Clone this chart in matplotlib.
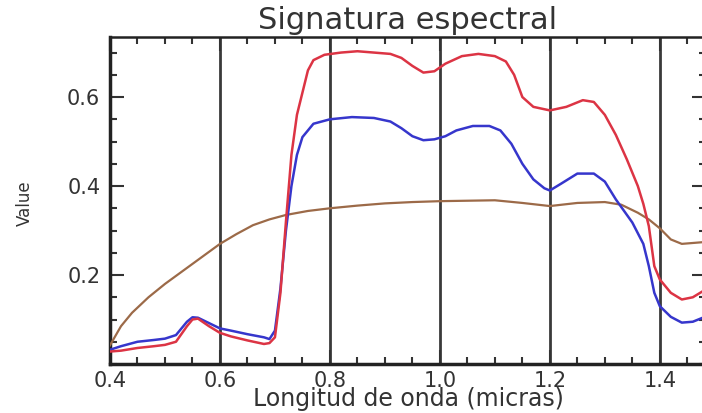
import numpy as np
from matplotlib import pyplot as plt
from matplotlib.ticker import MultipleLocator

plt.rcParams.update({'font.family': 'DejaVu Sans',
                     'text.color': "#333333",
                     'xtick.color': "#333333",
                     'ytick.color': "#333333"})

# espectro rojo (vegetacion)
wl_red = [0.40, 0.42, 0.45, 0.48, 0.50, 0.52, 0.54, 0.55, 0.56, 0.58, 0.60,
          0.62, 0.65, 0.68, 0.69, 0.70, 0.71, 0.72, 0.73, 0.74, 0.75, 0.76,
          0.77, 0.79, 0.82, 0.85, 0.88, 0.91, 0.93, 0.95, 0.97, 0.99, 1.01,
          1.04, 1.07, 1.10, 1.12, 1.135, 1.15, 1.17, 1.20, 1.23, 1.26, 1.28,
          1.30, 1.32, 1.34, 1.36, 1.37, 1.38, 1.39, 1.40, 1.42, 1.44, 1.46,
          1.48]
val_red = [0.028, 0.030, 0.036, 0.040, 0.043, 0.050, 0.085, 0.100, 0.102,
           0.085, 0.070, 0.062, 0.053, 0.045, 0.047, 0.060, 0.160, 0.320,
           0.470, 0.560, 0.610, 0.660, 0.683, 0.695, 0.700, 0.703, 0.700,
           0.697, 0.688, 0.670, 0.655, 0.658, 0.675, 0.692, 0.697, 0.692,
           0.680, 0.650, 0.600, 0.578, 0.570, 0.578, 0.593, 0.589, 0.560,
           0.515, 0.460, 0.400, 0.360, 0.310, 0.220, 0.190, 0.160, 0.145,
           0.150, 0.165]

# espectro azul
wl_blue = [0.40, 0.42, 0.45, 0.48, 0.50, 0.52, 0.54, 0.55, 0.56, 0.58, 0.60,
           0.62, 0.65, 0.68, 0.69, 0.70, 0.71, 0.72, 0.73, 0.74, 0.75, 0.77,
           0.80, 0.84, 0.88, 0.91, 0.93, 0.95, 0.97, 0.99, 1.01, 1.03, 1.06,
           1.09, 1.11, 1.13, 1.15, 1.17, 1.19, 1.20, 1.22, 1.25, 1.28, 1.30,
           1.32, 1.35, 1.37, 1.38, 1.39, 1.40, 1.42, 1.44, 1.46, 1.48]
val_blue = [0.032, 0.040, 0.050, 0.054, 0.057, 0.065, 0.095, 0.105, 0.104,
            0.092, 0.080, 0.075, 0.067, 0.060, 0.056, 0.075, 0.170, 0.300,
            0.400, 0.470, 0.510, 0.540, 0.550, 0.555, 0.553, 0.545, 0.530,
            0.512, 0.503, 0.505, 0.512, 0.525, 0.535, 0.535, 0.525, 0.495,
            0.450, 0.415, 0.395, 0.390, 0.405, 0.428, 0.428, 0.410, 0.370,
            0.318, 0.270, 0.220, 0.160, 0.130, 0.106, 0.093, 0.095, 0.105]

# espectro marron (suelo)
wl_soil = [0.40, 0.42, 0.44, 0.47, 0.50, 0.53, 0.56, 0.60, 0.63, 0.66, 0.69,
           0.72, 0.76, 0.80, 0.85, 0.90, 0.95, 1.00, 1.05, 1.10, 1.15, 1.20,
           1.25, 1.30, 1.33, 1.36, 1.38, 1.40, 1.42, 1.44, 1.46, 1.48]
val_soil = [0.042, 0.085, 0.115, 0.150, 0.180, 0.207, 0.234, 0.270, 0.292,
            0.312, 0.325, 0.335, 0.344, 0.350, 0.356, 0.361, 0.364, 0.366,
            0.367, 0.368, 0.362, 0.355, 0.362, 0.364, 0.358, 0.340, 0.325,
            0.305, 0.280, 0.270, 0.272, 0.274]

grid_x = [0.6, 0.8, 1.0, 1.2, 1.4]

fig = plt.figure(figsize=(7.02, 4.13), dpi=100)
ax = fig.add_axes([110/702, 49/413, 596/702, 327/413])

for gx in grid_x:
    ax.axvline(gx, color='#3a3a3a', lw=2.0, zorder=1)

ax.plot(wl_soil, val_soil, color='#9c6a48', lw=1.6, zorder=3)
ax.plot(wl_blue, val_blue, color='#3636cc', lw=1.8, zorder=3)
ax.plot(wl_red, val_red, color='#dc3444', lw=1.8, zorder=4)

ax.set_xlim(0.4, 1.484)
ax.set_ylim(0, 0.735)
ax.xaxis.set_major_locator(MultipleLocator(0.2))
ax.xaxis.set_minor_locator(MultipleLocator(0.05))
ax.set_yticks([0.2, 0.4, 0.6])
ax.yaxis.set_minor_locator(MultipleLocator(0.05))
ax.tick_params(which='both', direction='in', top=True, right=True,
               width=1.5, labelsize=15)
ax.tick_params(which='major', length=10)
ax.tick_params(which='minor', length=5)
ax.tick_params(axis='x', pad=5)
ax.tick_params(axis='y', pad=7)

for side in ['left', 'bottom']:
    ax.spines[side].set_linewidth(2.5)
for side in ['top', 'right']:
    ax.spines[side].set_linewidth(1.8)
for side in ax.spines:
    ax.spines[side].set_color('#222222')

fig.text(408/702, (413-29)/413, 'Signatura espectral', ha='center',
         va='baseline', fontsize=22)
fig.text(408/702, (413-406)/413, 'Longitud de onda (micras)', ha='center',
         va='baseline', fontsize=17)
fig.text(25/702, (413-203)/413, 'Value', ha='center', va='center',
         rotation=90, fontsize=12)

fig.savefig('out.png', dpi=100)
